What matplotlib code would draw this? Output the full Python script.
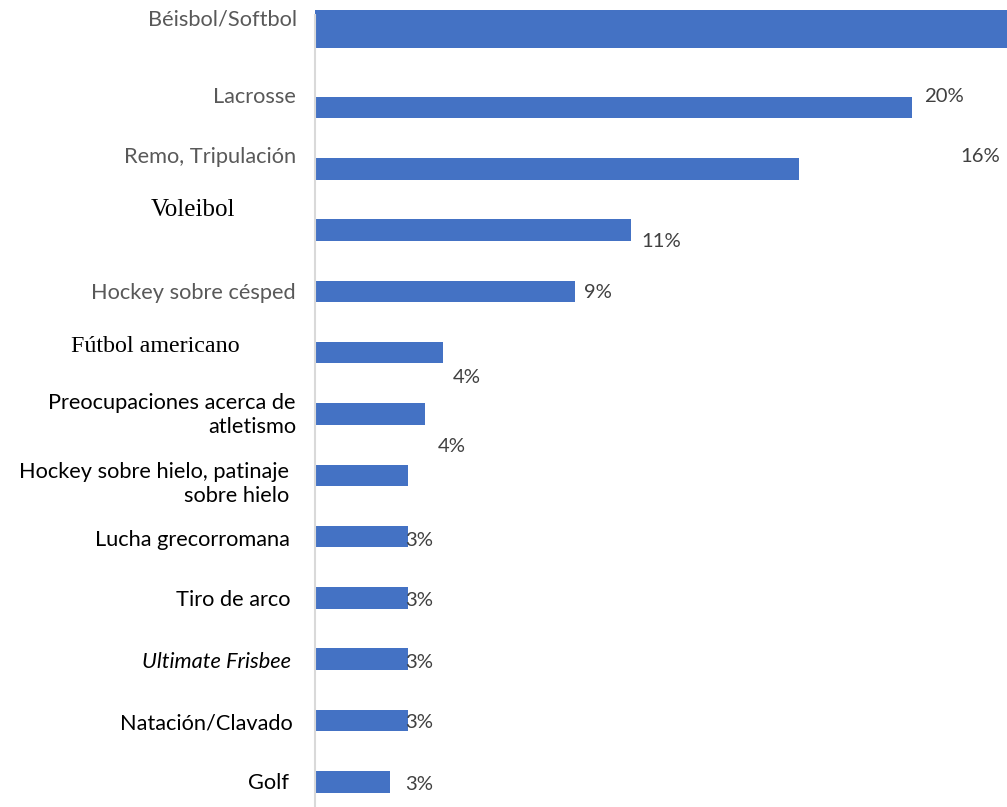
import matplotlib
matplotlib.use("Agg")
import matplotlib.pyplot as plt

categories = ["Béisbol/Softbol", "Lacrosse", "Remo, Tripulación", "Voleibol",
              "Hockey sobre césped", "Fútbol americano",
              "Preocupaciones acerca de\natletismo",
              "Hockey sobre hielo, patinaje\nsobre hielo",
              "Lucha grecorromana", "Tiro de arco", "Ultimate Frisbee",
              "Natación/Clavado", "Golf"]
values = [25.0, 20.0, 16.2, 10.6, 8.7, 4.3, 3.7, 3.1, 3.1, 3.1, 3.1, 3.1, 2.5]
value_labels = [None, "20%", "16%", "11%", "9%", "4%", "4%", None,
                "3%", "3%", "3%", "3%", "3%"]

W, H = 1007, 807
fig = plt.figure(figsize=(W / 100, H / 100), dpi=100)
ax = fig.add_axes([315 / W, 0, 1 - 315 / W, 1])

BLUE = "#4472C4"
pos = list(range(len(categories)))
# first bar drawn taller and shifted upward as in the source
for i, v in zip(pos, values):
    if i == 0:
        ax.barh(i - 0.28, v, height=0.62, color=BLUE)
    else:
        ax.barh(i, v, height=0.35, color=BLUE)

ax.set_ylim((807 - 46.2) / 61.3, -46.2 / 61.3)
ax.set_xlim(0, 692 / 29.85)
ax.set_xticks([])
ax.set_yticks([])
for s in ["top", "right", "bottom"]:
    ax.spines[s].set_visible(False)
ax.spines["left"].set_color("#D9D9D9")
ax.spines["left"].set_linewidth(1.5)
ax.spines["left"].set_bounds((807 - 46.2) / 61.3, (15 - 46.2) / 61.3)

SANS = "Lato"
SERIF = "Liberation Serif"
GRAY = "#595959"
fs = 15.7

label_specs = [
    (297, 20, GRAY, SANS, "normal", 15.7),
    (296, 97, GRAY, SANS, "normal", 15.7),
    (296, 157, GRAY, SANS, "normal", 15.7),
    (235, 210, "black", SERIF, "normal", 18),
    (296, 293, GRAY, SANS, "normal", 15.7),
    (240, 347, "black", SERIF, "normal", 17.3),
    (296, 415, "black", SANS, "normal", 15.7),
    (289, 484, "black", SANS, "normal", 15.7),
    (290, 540, "black", SANS, "normal", 15.7),
    (291, 600, "black", SANS, "normal", 15.7),
    (291, 662, "black", SANS, "italic", 15.7),
    (293, 723, "black", SANS, "normal", 15.7),
    (289, 783, "black", SANS, "normal", 15.7),
]
for cat, (px, py, col, fam, style, size) in zip(categories, label_specs):
    fig.text(px / W, 1 - py / H, cat, ha="right", va="center", color=col,
             family=fam, style=style, fontsize=size, linespacing=1.2,
             multialignment="right")

value_pos = [None, (924, 96), (960, 157), (641, 242), (584, 293), (453, 378),
             (438, 446), None, (405, 540), (405, 601), (405, 662), (405, 723),
             (405, 785)]
for lab, p in zip(value_labels, value_pos):
    if lab is None:
        continue
    fig.text(p[0] / W, 1 - p[1] / H, lab, ha="left", va="center",
             color="#404040", family=SANS, fontsize=14.6)

fig.savefig("out.png", dpi=100)
